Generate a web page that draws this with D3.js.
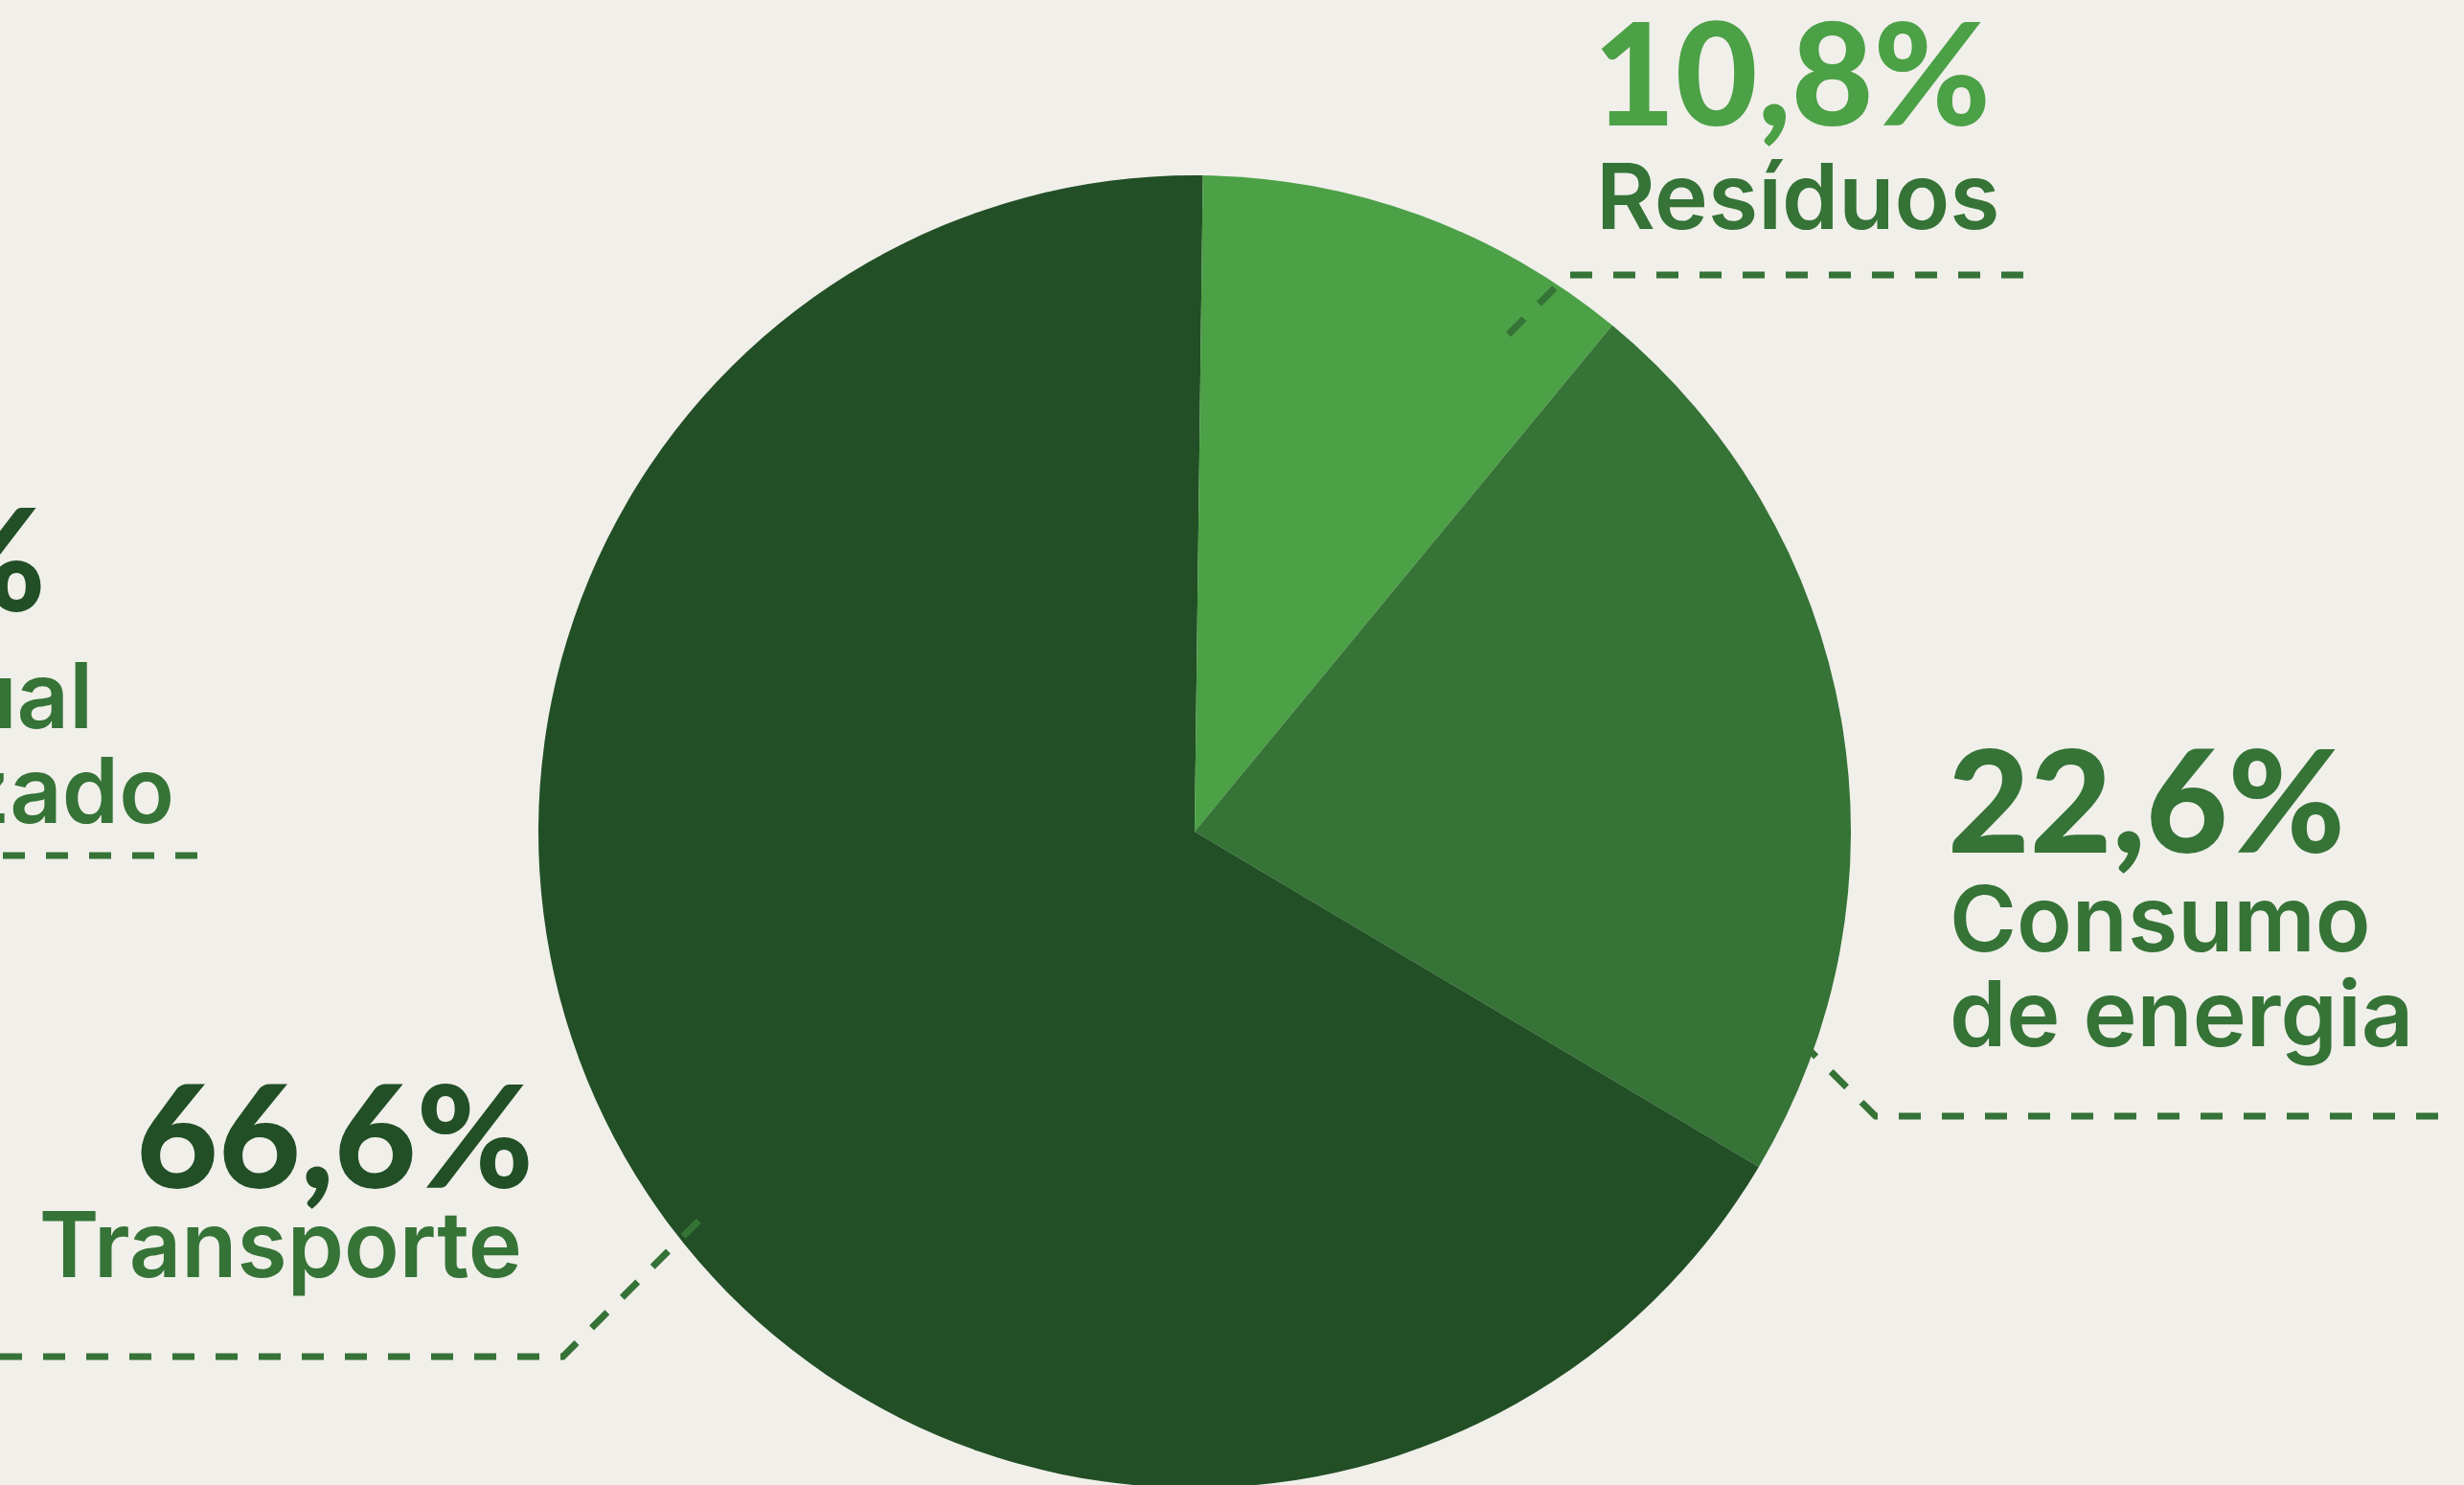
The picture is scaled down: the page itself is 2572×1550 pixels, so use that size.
<!DOCTYPE html>
<html>
<head>
<meta charset="utf-8">
<script src="https://cdn.jsdelivr.net/npm/d3@7"></script>
<style>
  html, body { margin: 0; padding: 0; background: #f0efea; overflow: hidden; }
  .num { font-family: "Lato", sans-serif; font-weight: 900; }
  .lbl { font-family: "Inter", sans-serif; font-weight: 600; }
</style>
</head>
<body>
<div id="chart"></div>
<script>
// Chart data
const categories = ["Outros", "Resíduos", "Consumo de energia", "Transporte"];
const values = [0.2, 10.8, 22.6, 66.6];
const valueLabels = ["0,2%", "10,8%", "22,6%", "66,6%"];
const labelLines = [
    ["Uso residual", "não contabilizado"],
    ["Resíduos"],
    ["Consumo", "de energia"],
    ["Transporte"]
];
const colors = ["#224f26", "#4ca046", "#357336", "#224f26"];

const width = 2572;
const height = 1550;
const cx = 1247, cy = 868, radius = 685;
const lineColor = "#357336";

// where each label sits and how its leader runs
const layout = [
    { anchor: "end", numX: 48, numY: 638, lineX: [97, 182], lineY: [760, 859], dashY: 893, dashEnd: 206, dashFrom: 0, leader: null },
    { anchor: "start", numX: 1663, numY: 131, lineX: [1666], lineY: [239], dashY: 287, dashEnd: 2112, leader: { angle: 32.2, k: 0.892 } },
    { anchor: "start", numX: 2033, numY: 890, lineX: [2035, 2035], lineY: [993, 1092], dashY: 1165, dashEnd: 2545, leader: { angle: 107.6, k: 0.928 } },
    { anchor: "end", numX: 557, numY: 1240, lineX: [545], lineY: [1333], dashY: 1416, dashEnd: 0, leader: { angle: 232.0, k: 0.944 } }
];

const svg = d3.select("#chart")
    .append("svg")
    .attr("width", width)
    .attr("height", height);

svg.append("rect")
    .attr("width", width)
    .attr("height", height)
    .attr("fill", "#f0efea");

const pie = d3.pie().sort(null).value(d => d);
const arc = d3.arc().innerRadius(0).outerRadius(radius);

const g = svg.append("g")
    .attr("transform", `translate(${cx},${cy})`);

g.selectAll("path.slice")
    .data(pie(values))
    .join("path")
    .attr("class", "slice")
    .attr("d", arc)
    .attr("fill", (d, i) => colors[i]);

// leader lines (dashed)
layout.forEach((L, i) => {
    let pts;
    if (L.leader) {
        const p = d3.pointRadial(L.leader.angle * Math.PI / 180, radius * L.leader.k);
        const sx = cx + p[0], sy = cy + p[1];
        const dir = L.dashEnd > sx ? 1 : -1;
        const cornerX = sx + dir * Math.abs(sy - L.dashY);
        pts = [[L.dashEnd, L.dashY], [cornerX, L.dashY], [sx, sy]];
    } else {
        pts = [[L.dashEnd, L.dashY], [L.dashFrom, L.dashY]];
    }
    svg.append("path")
        .attr("d", d3.line()(pts))
        .attr("fill", "none")
        .attr("stroke", lineColor)
        .attr("stroke-width", 7)
        .attr("stroke-dasharray", "23 22");
});

// labels
layout.forEach((L, i) => {
    svg.append("text")
        .attr("class", "num")
        .attr("x", L.numX)
        .attr("y", L.numY)
        .attr("text-anchor", L.anchor)
        .attr("font-size", 148)
        .attr("fill", colors[i])
        .text(valueLabels[i]);

    labelLines[i].forEach((t, j) => {
        svg.append("text")
            .attr("class", "lbl")
            .attr("x", L.lineX[j])
            .attr("y", L.lineY[j])
            .attr("text-anchor", L.anchor)
            .attr("font-size", 95)
            .attr("fill", lineColor)
            .text(t);
    });
});
</script>
</body>
</html>
